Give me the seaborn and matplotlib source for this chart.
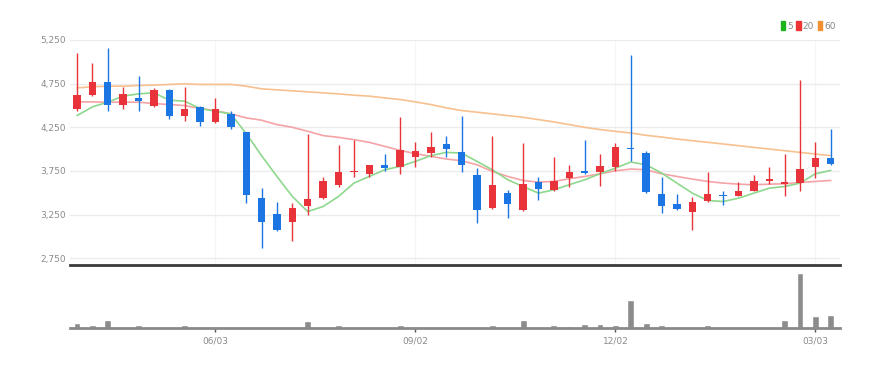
import matplotlib
matplotlib.use("Agg")
import matplotlib.pyplot as plt
from matplotlib.patches import Patch
import numpy as np
import pandas as pd
import seaborn as sns

sns.set_theme(style="white")
plt.rcParams["font.family"] = ["Liberation Sans Narrow", "DejaVu Sans"]

# ── weekly candles (open, high, low, close) ───────────────────────────────
OPEN = [4460, 4620, 4770, 4510, 4580, 4490, 4675, 4375, 4485, 4310,
        4405, 4195, 3445, 3255, 3160, 3345, 3440, 3590, 3740, 3720,
        3815, 3800, 3905, 3955, 4060, 3965, 3700, 3325, 3495, 3305,
        3620, 3535, 3675, 3750, 3735, 3800, 4015, 3955, 3490, 3375,
        3275, 3410, 3475, 3465, 3525, 3630, 3605, 3610, 3790, 3900]
HIGH = [5105, 4990, 5160, 4715, 4835, 4695, 4690, 4715, 4490, 4585,
        4440, 4200, 3555, 3390, 3380, 4175, 3685, 4045, 4100, 3820,
        3950, 4370, 4080, 4195, 4145, 4385, 3785, 4145, 3535, 4070,
        3680, 3905, 3815, 4100, 3945, 4070, 5075, 3975, 3685, 3490,
        3450, 3735, 3515, 3620, 3700, 3795, 3950, 4790, 4080, 4235]
LOW = [4435, 4605, 4440, 4460, 4435, 4485, 4340, 4325, 4260, 4300,
       4235, 3380, 2865, 3065, 2950, 3240, 3425, 3570, 3685, 3685,
       3750, 3720, 3800, 3915, 3905, 3735, 3150, 3315, 3210, 3295,
       3420, 3515, 3570, 3715, 3580, 3745, 3865, 3495, 3265, 3305,
       3075, 3400, 3360, 3460, 3515, 3605, 3465, 3525, 3670, 3820]
CLOSE = [4615, 4770, 4510, 4635, 4550, 4675, 4375, 4465, 4315, 4455,
         4250, 3475, 3160, 3075, 3330, 3425, 3630, 3735, 3755, 3815,
         3785, 3995, 3975, 4030, 4005, 3820, 3305, 3590, 3375, 3605,
         3545, 3640, 3735, 3725, 3810, 4020, 4000, 3505, 3345, 3310,
         3390, 3485, 3460, 3515, 3640, 3660, 3620, 3775, 3900, 3830]

MA5 = [4384, 4484, 4538, 4607, 4633, 4645, 4561, 4549, 4465, 4434,
       4404, 4178, 3925, 3687, 3458, 3285, 3343, 3458, 3611, 3687,
       3764, 3802, 3860, 3925, 3963, 3955, 3860, 3764, 3649, 3572,
       3496, 3534, 3592, 3649, 3718, 3783, 3852, 3821, 3726, 3611,
       3496, 3412, 3400, 3438, 3496, 3553, 3572, 3611, 3718, 3756]
MA20 = [4541, 4541, 4538, 4538, 4538, 4522, 4511, 4499, 4465, 4442,
        4404, 4358, 4331, 4281, 4250, 4204, 4155, 4135, 4109, 4078,
        4032, 3986, 3948, 3917, 3887, 3867, 3821, 3745, 3687, 3641,
        3622, 3630, 3661, 3687, 3718, 3752, 3772, 3764, 3718, 3687,
        3657, 3630, 3611, 3599, 3592, 3599, 3603, 3618, 3630, 3641]
MA60 = [4702, 4714, 4721, 4721, 4729, 4733, 4741, 4748, 4741, 4741,
        4741, 4721, 4691, 4679, 4668, 4656, 4645, 4633, 4618, 4607,
        4587, 4568, 4541, 4511, 4473, 4442, 4423, 4404, 4384, 4365,
        4338, 4312, 4281, 4250, 4224, 4204, 4185, 4158, 4139, 4116,
        4097, 4078, 4059, 4040, 4020, 4001, 3982, 3963, 3944, 3925]

VOLUME = [5000, 2700, 8300, 1500, 2700, 1500, 1500, 2700, 700, 1500,
          500, 1500, 1500, 500, 1500, 6700, 1500, 2700, 1500, 500,
          500, 3300, 1500, 1500, 1000, 1500, 1500, 2700, 500, 7700,
          1500, 3000, 2300, 4300, 4300, 3300, 27700, 5000, 2700, 1500,
          1500, 3300, 1500, 1500, 1500, 1500, 8300, 55000, 11700, 13300]

TICK_POS = [9, 22, 35, 48]
TICK_LABELS = ["06/03", "09/02", "12/02", "03/03"]
PRICE_TICKS = [2750, 3250, 3750, 4250, 4750, 5250]

UP, DOWN = "#e8333a", "#1b76e4"
TXT = "#8a8a8a"

df = pd.DataFrame({"idx": np.arange(len(OPEN)), "open": OPEN, "high": HIGH,
                   "low": LOW, "close": CLOSE, "vol": VOLUME,
                   "ma5": MA5, "ma20": MA20, "ma60": MA60})

fig = plt.figure(figsize=(8.89, 3.68), dpi=100)
ax = fig.add_axes([70 / 889, 1 - 265 / 368, 770 / 889, 225 / 368])
axv = fig.add_axes([70 / 889, 1 - 328 / 368, 770 / 889, 58 / 368])

# ── price panel ───────────────────────────────────────────────────────────
for col, c in [("ma60", "#f8c08e"), ("ma20", "#f5a3a6"), ("ma5", "#8ed88e")]:
    sns.lineplot(data=df, x="idx", y=col, color=c, lw=1.2, ax=ax, zorder=2)

up = df["close"] >= df["open"]
colors = np.where(up, UP, DOWN)
ax.vlines(df["idx"], df["low"], df["high"], colors=colors, lw=1, zorder=3)
body_lo = np.minimum(df["open"], df["close"])
body_h = np.maximum((df["close"] - df["open"]).abs(), 8)
ax.bar(df["idx"], body_h, bottom=body_lo, width=0.48, color=colors,
       linewidth=0, zorder=4)

ax.set_xlim(-0.455, 49.6)
ax.set_ylim(2673, 5250)
ax.set_yticks(PRICE_TICKS)
ax.set_yticklabels([f"{v:,}" for v in PRICE_TICKS])
ax.set_xticks(TICK_POS)
ax.set_xticklabels([])
ax.tick_params(axis="y", length=0, pad=3, labelsize=6.5, labelcolor=TXT)
ax.tick_params(axis="x", length=0)
ax.grid(True, axis="y", color="#ececec", lw=1)
ax.grid(True, axis="x", color="#f5f5f5", lw=1)
ax.set_xlabel("")
ax.set_ylabel("")
for s in ["top", "right", "left"]:
    ax.spines[s].set_visible(False)
ax.spines["bottom"].set_color("#3a3a3a")
ax.spines["bottom"].set_linewidth(2)

handles = [Patch(color="#1db31d"), Patch(color="#ee3333"), Patch(color="#f09030")]
leg = ax.legend(handles, ["5", "20", "60"], loc="center right",
                bbox_to_anchor=(840 / 889, 1 - 26 / 368),
                bbox_transform=fig.transFigure, ncol=3, frameon=False,
                handlelength=0.5, handleheight=1.0, handletextpad=0.2,
                columnspacing=0.4, fontsize=6.5, borderpad=0)
for t in leg.get_texts():
    t.set_color(TXT)

# ── volume panel ──────────────────────────────────────────────────────────
sns.barplot(data=df, x="idx", y="vol", color="#8c8c8c", saturation=1,
            width=0.45, ax=axv, zorder=2)
axv.set_xlim(-0.455, 49.6)
axv.set_ylim(0, max(VOLUME) * 58 / 55)
axv.set_xticks(TICK_POS)
axv.set_xticklabels(TICK_LABELS)
axv.set_yticks([])
axv.tick_params(axis="x", length=3, width=1, color="#555555", pad=3,
                labelsize=6.5, labelcolor=TXT, bottom=True, direction="out")
axv.set_xlabel("")
axv.set_ylabel("")
for s in ["top", "right", "left"]:
    axv.spines[s].set_visible(False)
axv.spines["bottom"].set_color("#8a8a8a")
axv.spines["bottom"].set_linewidth(2)

fig.savefig("out.png", dpi=100)
